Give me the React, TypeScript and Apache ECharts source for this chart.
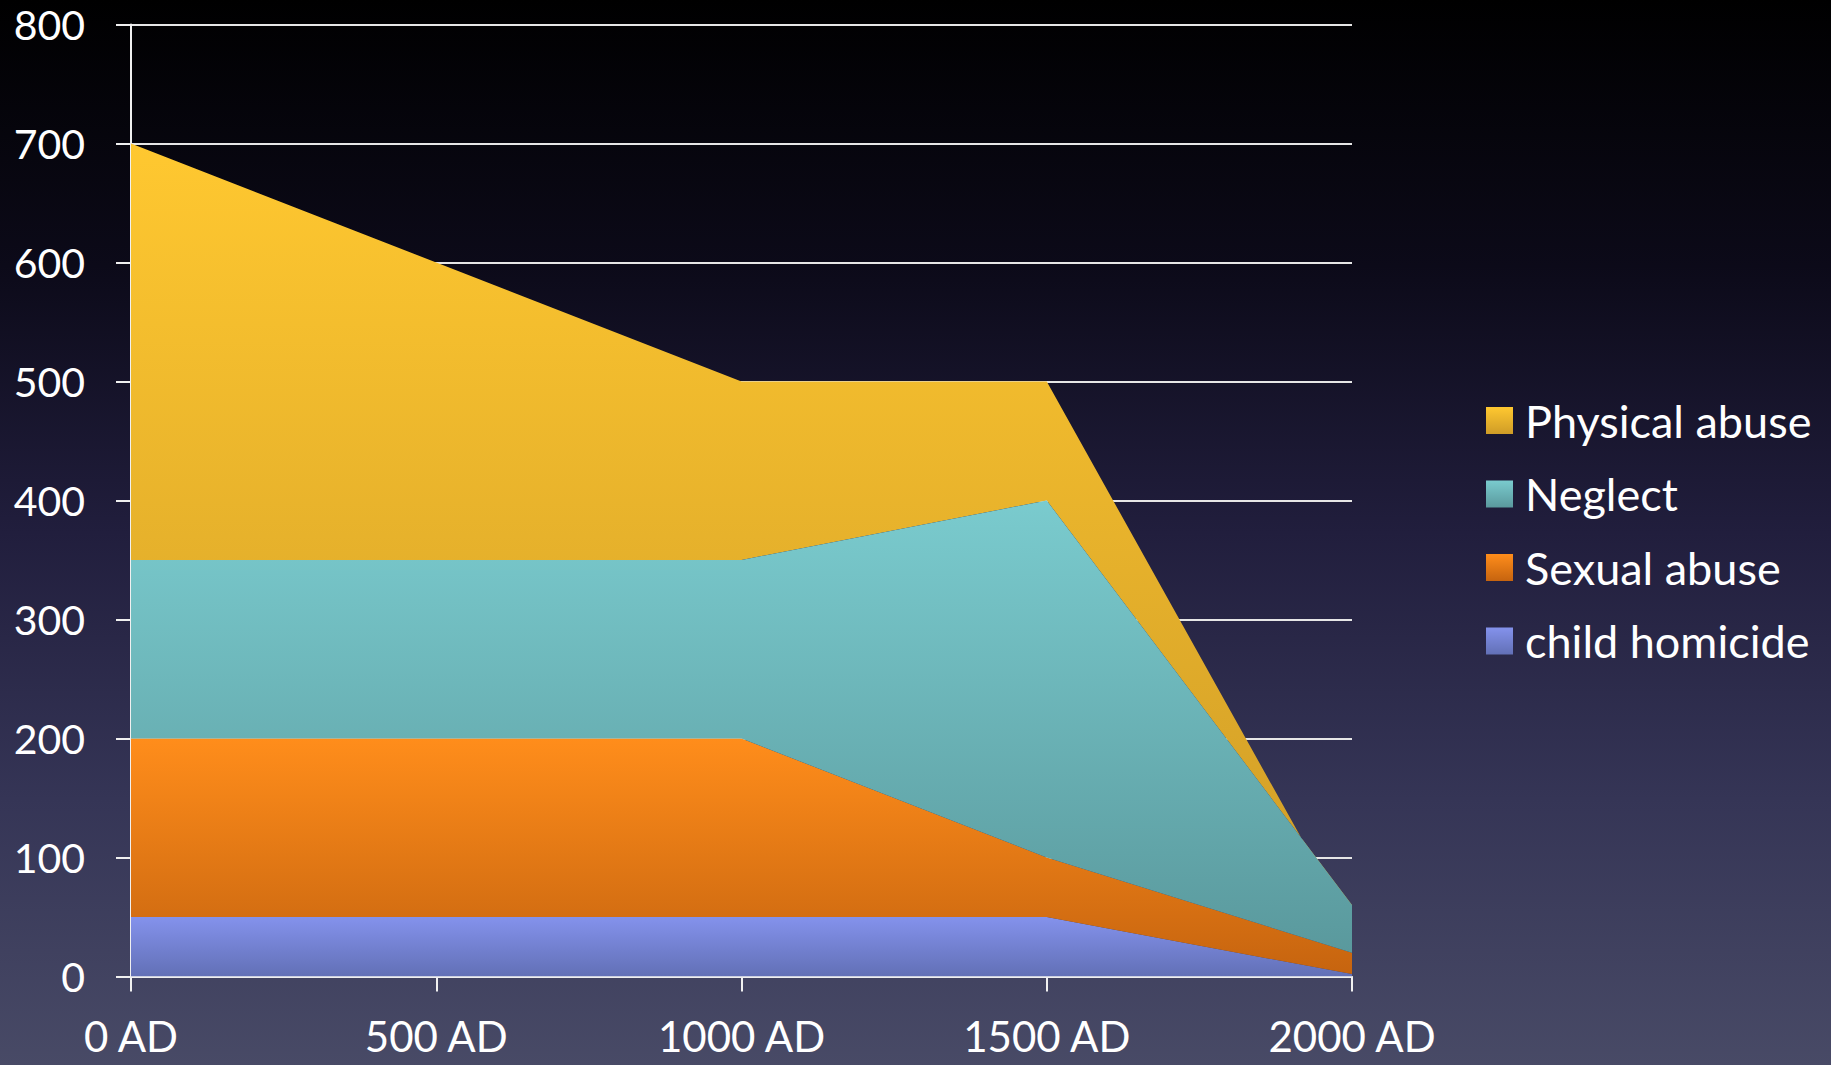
import React, { useEffect, useRef } from "react";
import * as echarts from "echarts";

const categories = ["0 AD", "500 AD", "1000 AD", "1500 AD", "2000 AD"];
const childHomicide = [50, 50, 50, 50, 2];
const sexualAbuse = [150, 150, 150, 50, 18];
const neglect = [150, 150, 150, 300, 40];
const physicalAbuse = [350, 250, 150, 100, -20];
const yTicks = { min: 0, max: 800, interval: 100 };

const FONT = "Lato, 'Open Sans', sans-serif";

function grad(top: string, bottom: string) {
  return new echarts.graphic.LinearGradient(0, 0, 0, 1, [
    { offset: 0, color: top },
    { offset: 1, color: bottom },
  ]);
}

export default function App() {
  const ref = useRef<HTMLDivElement>(null);
  useEffect(() => {
    if (!ref.current) return;
    const chart = echarts.init(ref.current, null, { renderer: "svg" });
    const colors = {
      physical: ["#FFC830", "#CF9C27"],
      neglect: ["#7ACBCE", "#5A999D"],
      sexual: ["#FF8D1B", "#C6640F"],
      child: ["#8492EC", "#6270B6"],
    };
    const mk = (name: string, data: number[], c: string[], z: number) => ({
      name,
      type: "line",
      stack: "total",
      stackStrategy: "all",
      data,
      z,
      symbol: "none",
      showSymbol: false,
      lineStyle: { width: 0 },
      itemStyle: { color: grad(c[0], c[1]) },
      areaStyle: { color: grad(c[0], c[1]), opacity: 1 },
    });
    chart.setOption({
      animation: false,
      backgroundColor: new echarts.graphic.LinearGradient(0, 0, 0, 1, [
        { offset: 0, color: "#000000" },
        { offset: 0.25, color: "#0c0a19" },
        { offset: 0.5, color: "#211e3d" },
        { offset: 0.75, color: "#353556" },
        { offset: 1, color: "#484a66" },
      ]),
      textStyle: { fontFamily: FONT },
      grid: { left: 131, right: 479, top: 24.5, bottom: 88.5, containLabel: false },
      legend: {
        orient: "vertical",
        left: 1486,
        top: 398,
        padding: 0,
        itemWidth: 27,
        itemHeight: 27,
        itemGap: 28.5,
        icon: "rect",
        data: ["Physical abuse", "Neglect", "Sexual abuse", "child homicide"],
        textStyle: {
          color: "#ffffff",
          fontSize: 45,
          lineHeight: 44,
          fontFamily: FONT,
          padding: [0, 0, 0, 7],
        },
      },
      xAxis: {
        type: "category",
        boundaryGap: false,
        data: categories,
        axisLine: { show: true, lineStyle: { color: "#f0f0f0", width: 2 } },
        axisTick: { show: true, length: 15, lineStyle: { color: "#f0f0f0", width: 2 } },
        axisLabel: { color: "#ffffff", fontSize: 42, margin: 38, fontFamily: FONT },
        splitLine: { show: false },
      },
      yAxis: {
        type: "value",
        min: yTicks.min,
        max: yTicks.max,
        interval: yTicks.interval,
        axisLine: { show: true, lineStyle: { color: "#f0f0f0", width: 2 } },
        axisTick: { show: true, length: 15, lineStyle: { color: "#f0f0f0", width: 2 } },
        axisLabel: { color: "#ffffff", fontSize: 41, margin: 46, fontFamily: FONT },
        splitLine: { show: true, lineStyle: { color: "#e6e6e6", width: 2 } },
      },
      series: [
        mk("child homicide", childHomicide, colors.child, 3),
        mk("Sexual abuse", sexualAbuse, colors.sexual, 3),
        mk("Neglect", neglect, colors.neglect, 3),
        mk("Physical abuse", physicalAbuse, colors.physical, 2),
      ],
    });
    return () => chart.dispose();
  }, []);
  return (
    <div
      ref={ref}
      style={{ position: "absolute", left: 0, top: 0, width: 1831, height: 1065 }}
    />
  );
}
